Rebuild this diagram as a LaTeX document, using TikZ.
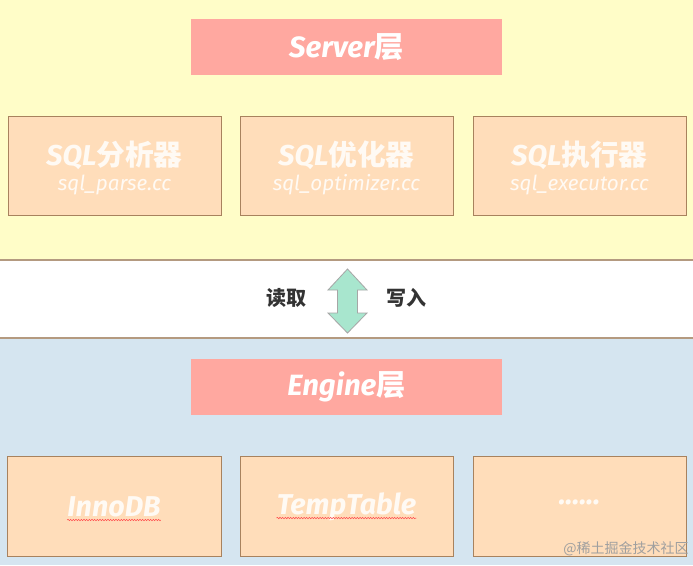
\documentclass[tikz,border=0pt]{standalone}
\usepackage{fontspec}
\setmainfont{Fira Sans}
\newfontfamily\cjk{Noto Sans CJK SC}
\usetikzlibrary{decorations.pathmorphing}
\definecolor{bandY}{HTML}{FFFDC8}
\definecolor{bandB}{HTML}{D5E5F0}
\definecolor{bandLine}{HTML}{B49A80}
\definecolor{peach}{HTML}{FFDDBA}
\definecolor{peachLine}{HTML}{A8825E}
\definecolor{salmon}{HTML}{FFA8A0}
\definecolor{mint}{HTML}{A8E6CE}
\definecolor{darktxt}{HTML}{333333}
\definecolor{softwhite}{HTML}{FFFAF4}
\begin{document}
\begin{tikzpicture}[x=0.75pt,y=-0.75pt,
  sz/.style 2 args={minimum width=#1*0.75pt, minimum height=#2*0.75pt},
  modbox/.style={draw=peachLine, line width=0.7pt, fill=peach, inner sep=0pt, outer sep=0pt},
  layerbox/.style={fill=salmon, inner sep=0pt, outer sep=0pt, text=white,
    font=\fontsize{22}{26}\selectfont\bfseries\itshape},
  ttl/.style={text=softwhite, inner sep=0pt, font=\fontsize{21.5}{25}\selectfont\bfseries\itshape},
  sub/.style={text=softwhite, inner sep=0pt, font=\fontsize{15.5}{18}\selectfont\itshape},
  mid/.style={text=darktxt, inner sep=0pt, font=\fontsize{15}{18}\selectfont\cjk\bfseries},
  squig/.style={draw=red!70, line width=0.4pt, decorate,
    decoration={snake, amplitude=0.5pt, segment length=2pt}}
]
\useasboundingbox (0,0) rectangle (693,565);
% bands
\fill[bandY] (0,0) rectangle (693,260);
\fill[white] (0,260) rectangle (693,338);
\fill[bandB] (0,338) rectangle (693,565);
\draw[bandLine, line width=1.1pt] (0,260) -- (693,260);
\draw[bandLine, line width=1.1pt] (0,338) -- (693,338);

% Server layer
\node[layerbox, sz={311}{56}] (server) at (346.5,47) {Server{\cjk 层}};

% top modules
\node[modbox, sz={213}{99}] (b1) at (114.5,165.5) {};
\node[modbox, sz={213}{99}] (b2) at (346.5,165.5) {};
\node[modbox, sz={213}{99}] (b3) at (579.5,165.5) {};
\node[ttl] (t1) at (114.5,155) {SQL{\cjk 分析器}};
\node[ttl] (t2) at (346.5,155) {SQL{\cjk 优化器}};
\node[ttl] (t3) at (579.5,155) {SQL{\cjk 执行器}};
\node[sub] (s1) at (114.5,185) {sql\_parse.cc};
\node[sub] (s2) at (346.5,185) {sql\_optimizer.cc};
\node[sub] (s3) at (579.5,185) {sql\_executor.cc};

% middle arrow
\filldraw[fill=mint, draw=gray!70, line width=0.6pt]
  (347.5,269) -- (367,290) -- (357.5,290) -- (357.5,313) -- (367,313)
  -- (347.5,333) -- (328,313) -- (337.5,313) -- (337.5,290) -- (328,290) -- cycle;
\node[mid] (read) at (286,298) {读取};
\node[mid] (write) at (406,298) {写入};

% Engine layer
\node[layerbox, sz={311}{56}] (engine) at (346.5,387) {Engine{\cjk 层}};

% bottom modules
\node[modbox, sz={214}{100}] (e1) at (114,506) {};
\node[modbox, sz={213}{100}] (e2) at (346.5,506) {};
\node[modbox, sz={213}{100}] (e3) at (579.5,506) {};
\node[ttl] (inno) at (114,507) {InnoDB};
\node[ttl] (temp) at (346.5,507) {TempTable};
\node[ttl] (dots) at (579.5,502) {......};
\draw[squig] ([yshift=-2.5pt]inno.base west) -- ([yshift=-2.5pt]inno.base east);
\draw[squig] ([yshift=-2.5pt]temp.base west) -- ([yshift=-2.5pt]temp.base east);

% watermark
\node[anchor=east, inner sep=0pt, text=gray!75,
  font=\fontsize{10.5}{12}\selectfont\cjk] (wm) at (689,549) {@稀土掘金技术社区};
\end{tikzpicture}
\end{document}
